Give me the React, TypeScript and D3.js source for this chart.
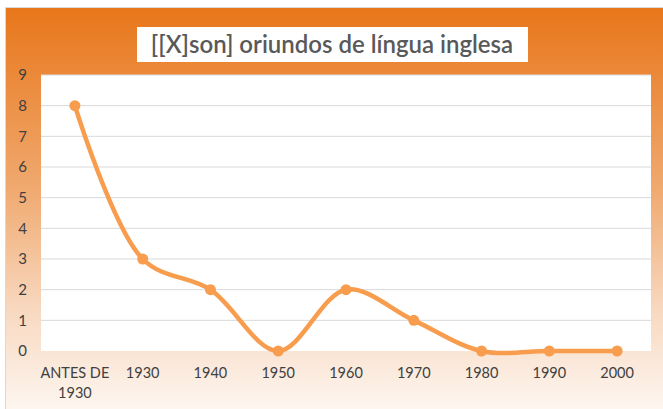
import React from "react";
import * as d3 from "d3";

const categories = ["ANTES DE 1930", "1930", "1940", "1950", "1960", "1970", "1980", "1990", "2000"];
const values = [8, 3, 2, 0, 2, 1, 0, 0, 0];
const yTicks = [0, 1, 2, 3, 4, 5, 6, 7, 8, 9];
const title = "[[X]son] oriundos de língua inglesa";

const W = 663;
const H = 409;
const plot = { left: 41, right: 651, top: 75, bottom: 351 };
const font = "Lato, 'Open Sans', sans-serif";

export default function App() {
  const x = d3.scaleBand<string>().domain(categories).range([plot.left, plot.right]);
  const y = d3.scaleLinear().domain([0, 9]).range([plot.bottom, plot.top]);
  const cx = (c: string) => (x(c) as number) + x.bandwidth() / 2;

  const line = d3
    .line<number>()
    .x((_, i) => cx(categories[i]))
    .y((d) => y(d))
    .curve(d3.curveCatmullRom.alpha(0.5));

  return (
    <svg
      width={W}
      height={H}
      style={{ position: "absolute", left: 0, top: 0, display: "block" }}
    >
      <defs>
        <linearGradient id="bg" x1="0" y1="0" x2="0" y2="1">
          <stop offset="0" stopColor="#E8761A" />
          <stop offset="0.45" stopColor="#F0A96F" />
          <stop offset="0.75" stopColor="#F8D8BF" />
          <stop offset="1" stopColor="#FDF6F0" />
        </linearGradient>
      </defs>
      <rect x={0} y={0} width={W} height={H} fill="#FFFFFF" />
      <rect x={5.5} y={7.5} width={W - 5} height={H - 7} fill="url(#bg)" stroke="#D9D9D9" strokeWidth={1} />
      <rect x={plot.left} y={plot.top} width={plot.right - plot.left} height={plot.bottom - plot.top} fill="#FFFFFF" />
      {yTicks.map((t) => (
        <g key={t}>
          {t > 0 && (
            <line x1={plot.left} x2={plot.right} y1={y(t)} y2={y(t)} stroke="#D9D9D9" strokeWidth={1} />
          )}
          <text
            x={27}
            y={y(t)}
            dy="0.35em"
            textAnchor="end"
            fontFamily={font}
            fontSize={15}
            fill="#404040"
          >
            {t}
          </text>
        </g>
      ))}
      {categories.map((c) => {
        const parts = c === "ANTES DE 1930" ? ["ANTES DE", "1930"] : [c];
        return (
          <text key={c} x={cx(c)} y={378} textAnchor="middle" fontFamily={font} fontSize={14.5} fill="#404040">
            {parts.map((p, i) => (
              <tspan key={i} x={cx(c)} dy={i === 0 ? 0 : 20}>
                {p}
              </tspan>
            ))}
          </text>
        );
      })}
      <path d={line(values) || ""} fill="none" stroke="#F89C4E" strokeWidth={4.5} strokeLinecap="round" />
      {values.map((v, i) => (
        <circle key={i} cx={cx(categories[i])} cy={y(v)} r={5.5} fill="#F89C4E" />
      ))}
      <rect x={137} y={27} width={391} height={35} fill="#FFFFFF" />
      <text
        x={332}
        y={45}
        dy="0.35em"
        textAnchor="middle"
        fontFamily={font}
        fontSize={24}
        fontWeight={600}
        fill="#595959"
      >
        {title}
      </text>
    </svg>
  );
}
